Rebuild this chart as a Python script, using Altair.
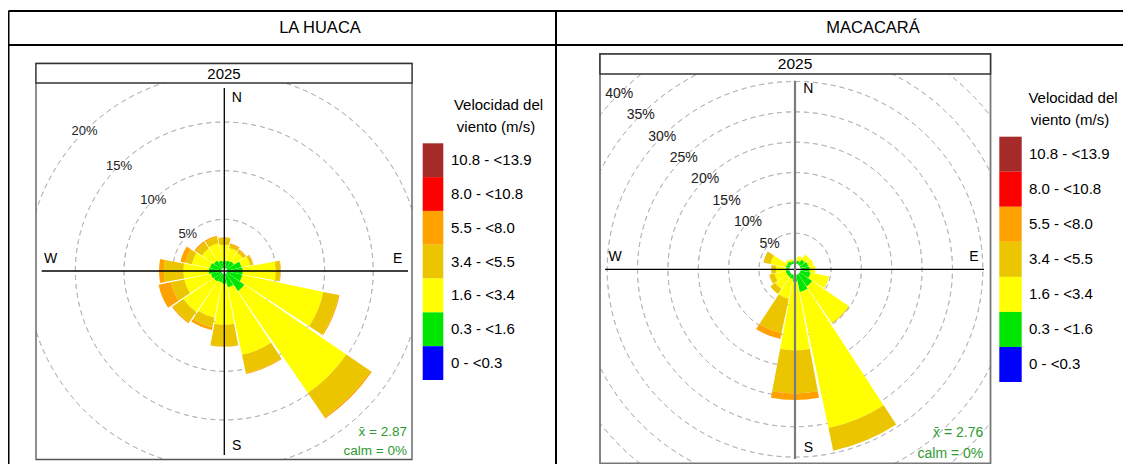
import math
import altair as alt
import pandas as pd

# ---------------- data ----------------
DIRECTIONS = ["N", "NNE", "NE", "ENE", "E", "ESE", "SE", "SSE",
              "S", "SSW", "SW", "WSW", "W", "WNW", "NW", "NNW"]
DIR_DEGREES = [0.0, 22.5, 45.0, 67.5, 90.0, 112.5, 135.0, 157.5,
               180.0, 202.5, 225.0, 247.5, 270.0, 292.5, 315.0, 337.5]
SPEED_BINS = ["0 - <0.3", "0.3 - <1.6", "1.6 - <3.4", "3.4 - <5.5",
              "5.5 - <8.0", "8.0 - <10.8", "10.8 - <13.9"]
BIN_COLORS = ["#0000FF", "#00E600", "#FFFF00", "#EBC600",
              "#FFA200", "#FF0000", "#A52A2A"]
STATIONS = ["LA HUACA", "MACACARÁ"]
YEAR = "2025"
LEGEND_TITLE = ["Velocidad del", "viento (m/s)"]
COMPASS = ["N", "S", "W", "E"]

# LA HUACA frequencies (%) per speed bin, by direction
huaca_b0 = [0.00, 0.00, 0.00, 0.00, 0.00, 0.00, 0.00, 0.00, 0.00, 0.00, 0.00, 0.00, 0.00, 0.00, 0.00, 0.00]
huaca_b1 = [0.72, 0.80, 0.90, 1.50, 1.60, 1.60, 2.20, 1.40, 1.00, 0.90, 1.00, 1.10, 1.30, 1.20, 1.00, 0.80]
huaca_b2 = [1.68, 1.30, 1.10, 0.90, 3.40, 8.50, 12.70, 7.10, 4.20, 3.70, 3.80, 2.80, 2.60, 1.90, 1.50, 1.80]
huaca_b3 = [0.70, 0.35, 0.30, 0.30, 0.45, 1.60, 3.00, 1.90, 2.25, 1.00, 1.25, 1.40, 2.00, 0.70, 0.70, 0.65]
huaca_b4 = [0.05, 0.12, 0.10, 0.05, 0.05, 0.10, 0.15, 0.10, 0.02, 0.30, 0.15, 1.30, 0.50, 0.50, 0.20, 0.15]
huaca_b5 = [0.00] * 16
huaca_b6 = [0.00] * 16
huaca_rings = [5, 10, 15, 20]
huaca_mean = "x̄ = 2.87"
huaca_calm = "calm = 0%"

# MACACARÁ frequencies (%) per speed bin, by direction
maca_b0 = [0.00, 0.00, 0.00, 0.00, 0.00, 0.00, 0.00, 0.00, 0.00, 0.00, 0.00, 0.00, 0.00, 0.00, 0.00, 0.00]
maca_b1 = [0.30, 0.55, 1.00, 1.30, 1.50, 1.70, 2.50, 2.90, 1.10, 0.70, 0.60, 0.60, 0.55, 0.60, 0.60, 0.45]
maca_b2 = [0.30, 0.75, 1.00, 0.90, 0.90, 3.10, 7.25, 22.90, 11.30, 3.30, 2.40, 1.90, 1.65, 2.60, 0.40, 0.35]
maca_b3 = [0.00, 0.00, 0.00, 0.00, 0.00, 0.00, 0.15, 3.80, 7.10, 5.80, 1.00, 0.90, 0.80, 1.20, 0.00, 0.00]
maca_b4 = [0.00, 0.00, 0.00, 0.00, 0.00, 0.00, 0.00, 0.00, 1.10, 1.00, 0.00, 0.00, 0.00, 0.00, 0.00, 0.00]
maca_b5 = [0.00] * 16
maca_b6 = [0.00] * 16
maca_rings = [5, 10, 15, 20, 25, 30, 35, 40]
maca_mean = "x̄ = 2.76"
maca_calm = "calm = 0%"

# ---------------- layout (page pixels) ----------------
M = 8
W, H = 1115, 456
FONT = "Liberation Sans"
HALF = 10.6
TWO_PI = 2 * math.pi
DASH, GAP = 5.0, 4.0


def p(v):
    return v - M


color_enc = alt.Color("bin:N", scale=alt.Scale(domain=SPEED_BINS, range=BIN_COLORS), legend=None)
theta_scale = alt.Scale(domain=[0, 360], range=[0, TWO_PI])


def band_frame(freqs):
    rows = []
    for i, d in enumerate(DIR_DEGREES):
        cum = 0.0
        for b, label in enumerate(SPEED_BINS):
            v = freqs[b][i]
            if v > 0:
                rows.append({"dir": DIRECTIONS[i], "t0": d - HALF, "t1": d + HALF,
                             "r0": cum, "r1": cum + v, "bin": label})
            cum += v
    return pd.DataFrame(rows)


def dash_frame(rings, rmax, r0px, rpx):
    # split every ring into short dash arcs (dash length in pixels is a style choice)
    rows = []
    for r in rings:
        rad = r0px + r / rmax * (rpx - r0px)
        n = max(12, int(round(TWO_PI * rad / (DASH + GAP))))
        slot = 360.0 / n
        for k in range(n):
            a = k * slot
            rows.append({"pct": r, "t0": a, "t1": a + slot * DASH / (DASH + GAP)})
    return pd.DataFrame(rows)


def rose(freqs, rings, cx, cy, rmax, r0px, rpx, fs):
    rs = alt.Scale(type="linear", domain=[0, rmax], range=[r0px, rpx], zero=False, nice=False)
    ring_df = pd.DataFrame({"pct": rings, "label": [f"{r}%" for r in rings]})
    ring_layer = alt.Chart(dash_frame(rings, rmax, r0px, rpx)).mark_arc(
        fillOpacity=0, stroke="#b4b4b4", strokeWidth=0.9
    ).encode(
        x=alt.value(p(cx)), y=alt.value(p(cy)),
        theta=alt.Theta("t0:Q", scale=theta_scale, stack=False),
        theta2="t1:Q",
        radius=alt.Radius("pct:Q", scale=rs, stack=False),
        radius2="pct:Q",
    )
    wedge_layer = alt.Chart(band_frame(freqs)).mark_arc().encode(
        x=alt.value(p(cx)), y=alt.value(p(cy)),
        theta=alt.Theta("t0:Q", scale=theta_scale, stack=False),
        theta2="t1:Q",
        radius=alt.Radius("r1:Q", scale=rs, stack=False),
        radius2="r0:Q",
        color=color_enc,
    )
    label_layer = alt.Chart(ring_df).mark_text(
        font=FONT, fontSize=fs, color="#222222", align="center", baseline="middle"
    ).encode(
        x=alt.value(p(cx)), y=alt.value(p(cy)),
        theta=alt.value(315 * math.pi / 180),
        radius=alt.Radius("pct:Q", scale=rs),
        text="label:N",
    )
    return [ring_layer, wedge_layer, label_layer]


def rule(x1, y1, x2, y2, color="black", w=1.3):
    return alt.Chart(pd.DataFrame({"a": [0]})).mark_rule(color=color, strokeWidth=w).encode(
        x=alt.value(p(x1)), x2=alt.value(p(x2)), y=alt.value(p(y1)), y2=alt.value(p(y2)))


def rect(x1, y1, x2, y2, fill="white", stroke=None, sw=1.0):
    kw = {"fill": fill}
    if stroke is not None:
        kw.update(stroke=stroke, strokeWidth=sw)
    return alt.Chart(pd.DataFrame({"a": [0]})).mark_rect(**kw).encode(
        x=alt.value(p(x1)), x2=alt.value(p(x2)), y=alt.value(p(y1)), y2=alt.value(p(y2)))


def text(t, x, y, fs=14, color="black", align="center"):
    return alt.Chart(pd.DataFrame({"a": [0]})).mark_text(
        text=t, font=FONT, fontSize=fs, color=color, align=align, baseline="middle"
    ).encode(x=alt.value(p(x)), y=alt.value(p(y)))


def legend(x0, x1, top, bottom, lx, t1, t2, fs):
    order = list(reversed(SPEED_BINS))
    ys = alt.Scale(type="band", domain=order, range=[p(top), p(bottom)], paddingInner=0, paddingOuter=0)
    df = pd.DataFrame({"bin": order})
    boxes = alt.Chart(df).mark_rect().encode(
        x=alt.value(p(x0)), x2=alt.value(p(x1)),
        y=alt.Y("bin:N", scale=ys, axis=None), color=color_enc)
    labels = alt.Chart(df).mark_text(font=FONT, fontSize=fs, align="left", baseline="middle", color="black").encode(
        x=alt.value(p(lx)), y=alt.Y("bin:N", scale=ys, axis=None), text="bin:N")
    return [boxes, labels, text(LEGEND_TITLE[0], t1[0], t1[1], fs), text(LEGEND_TITLE[1], t2[0], t2[1], fs)]


huaca = [huaca_b0, huaca_b1, huaca_b2, huaca_b3, huaca_b4, huaca_b5, huaca_b6]
maca = [maca_b0, maca_b1, maca_b2, maca_b3, maca_b4, maca_b5, maca_b6]

L_CX, L_CY = 224.3, 271.0
R_CX, R_CY = 795.0, 269.3

layers = []
layers += rose(huaca, huaca_rings, L_CX, L_CY, 20, 3.0, 197.6, 13)
layers += rose(maca, maca_rings, R_CX, R_CY, 40, 5.7, 248.5, 14)

# compass cross
layers += [rule(41.7, L_CY, 408, L_CY), rule(L_CX, 88, L_CX, 455),
           rule(605, R_CY, 984, R_CY), rule(R_CX, 80.7, R_CX, 459, color="#7a7a7a", w=2.2)]
# compass letters
layers += [text(COMPASS[0], 236.7, 97.7), text(COMPASS[1], 236.7, 446), text(COMPASS[2], 50.7, 259),
           text(COMPASS[3], 397.7, 259)]
layers += [text(COMPASS[0], 808.3, 89.3), text(COMPASS[1], 808.3, 448.3), text(COMPASS[2], 615, 256.7),
           text(COMPASS[3], 974, 256.7)]
# statistics
layers += [text(huaca_mean, 407, 431.7, 13.5, "#2f9a2f", "right"), text(huaca_calm, 407, 450.7, 13.5, "#2f9a2f", "right"),
           text(maca_mean, 983.3, 433, 14, "#2f9a2f", "right"), text(maca_calm, 983.3, 454, 14, "#2f9a2f", "right")]

# masks outside the panel boxes
layers += [rect(8, 8, 36, 472), rect(412, 8, 600, 472), rect(990.5, 8, 1123, 472),
           rect(36, 8, 412, 63.5), rect(36, 459.5, 412, 472),
           rect(600, 8, 990.5, 54), rect(600, 465, 990.5, 472)]

# panel boxes and strips
layers += [rect(36, 63.5, 412, 459.5, fill="transparent", stroke="#555555", sw=1.3),
           rect(36, 63.5, 412, 83, fill="white", stroke="#333333", sw=1.3),
           text(YEAR, 224, 73.5, 15),
           rect(600, 54, 990.5, 463.5, fill="transparent", stroke="#777777", sw=1.8),
           rect(600, 54, 990.5, 74, fill="white", stroke="#333333", sw=1.5),
           text(YEAR, 795, 64, 15.5)]

# table
layers += [rule(8.5, 11, 1123, 11, w=2), rule(8.5, 45, 1123, 45, w=2),
           rule(8.5, 11, 8.5, 472, w=2), rule(556, 11, 556, 472, w=2),
           text(STATIONS[0], 320, 27.5, 16.5), text(STATIONS[1], 873, 27.5, 16.5)]

# legends
layers += legend(422.7, 443.3, 143.3, 380, 451, (498.5, 105), (496, 126.5), 15)
layers += legend(999.3, 1021.7, 136.7, 382, 1029, (1073, 98), (1070, 120), 15)

chart = alt.layer(*layers).resolve_scale(
    theta="independent", radius="independent", y="independent", x="independent"
).properties(
    width=W, height=H, padding=0, autosize=alt.AutoSizeParams(type="none"), background="white"
).configure_view(strokeWidth=0)

chart.save("out.html", embed_options={"renderer": "svg", "actions": False})
